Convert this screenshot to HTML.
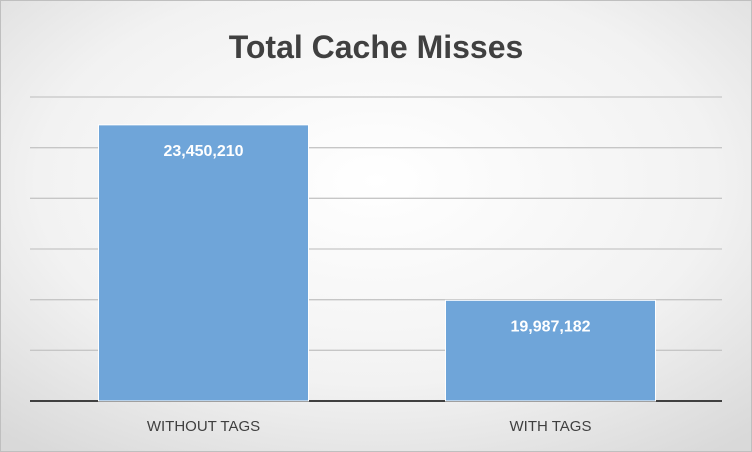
<!DOCTYPE html>
<html><head><meta charset="utf-8"><style>
body{margin:0;}
#chart{width:752px;height:452px;position:relative;overflow:hidden;}
</style></head><body>
<div id="chart">
<svg id="svg" width="752" height="452" xmlns="http://www.w3.org/2000/svg">
<defs>
<radialGradient id="bg" cx="50%" cy="40%" r="75%">
<stop offset="0%" stop-color="#ffffff"/><stop offset="60%" stop-color="#f2f2f2"/><stop offset="100%" stop-color="#d9d9d9"/>
</radialGradient>
</defs>
<rect x="0.5" y="0.5" width="751" height="451" fill="url(#bg)" stroke="#bfbfbf"/>
<text x="376" y="58" text-anchor="middle" font-family="Liberation Sans, sans-serif" font-size="32" font-weight="bold" fill="#404040">Total Cache Misses</text>
<g id="grid"></g><g id="bars"></g>
</svg>
</div>
<script>
const categories=["WITHOUT TAGS","WITH TAGS"];
const values=[23450210,19987182];
const valueLabels=["23,450,210","19,987,182"];
const ticks=[18000000,19000000,20000000,21000000,22000000,23000000,24000000];
const NS="http://www.w3.org/2000/svg";
const yMin=18000000,yMax=24000000,py0=401,py1=97,plotL=30,plotR=724;
function y(v){return py0-(v-yMin)/(yMax-yMin)*(py0-py1);}
function x(i){const w=(plotR-plotL)/categories.length;return plotL+w*i+w/2;}
const grid=document.getElementById('grid'),bars=document.getElementById('bars');
ticks.forEach((t,i)=>{const l=document.createElementNS(NS,'line');


l.setAttribute('x1',30);l.setAttribute('x2',722);l.setAttribute('y1',y(t));l.setAttribute('y2',y(t));
l.setAttribute('stroke',i===0?'#404040':'#c6c6c6');l.setAttribute('stroke-width',i===0?2:1.3);grid.appendChild(l);});
const bw=210;
categories.forEach((c,i)=>{const r=document.createElementNS(NS,'rect');


r.setAttribute('x',x(i)-bw/2);r.setAttribute('y',y(values[i]));r.setAttribute('width',bw);r.setAttribute('height',py0-y(values[i]));
r.setAttribute('fill','#6fa5d9');r.setAttribute('stroke','#ffffff');r.setAttribute('stroke-width','1');bars.appendChild(r);
const t=document.createElementNS(NS,'text');


t.setAttribute('x',x(i));t.setAttribute('y',y(values[i])+31);t.setAttribute('text-anchor','middle');
t.setAttribute('font-family','Liberation Sans, sans-serif');t.setAttribute('font-size','16');t.setAttribute('font-weight','bold');t.setAttribute('fill','#fff');
t.textContent=valueLabels[i];bars.appendChild(t);
const a=document.createElementNS(NS,'text');


a.setAttribute('x',x(i));a.setAttribute('y',431);a.setAttribute('text-anchor','middle');
a.setAttribute('font-family','Liberation Sans, sans-serif');a.setAttribute('font-size','15');a.setAttribute('fill','#404040');
a.textContent=c;bars.appendChild(a);});
</script>
</body></html>
